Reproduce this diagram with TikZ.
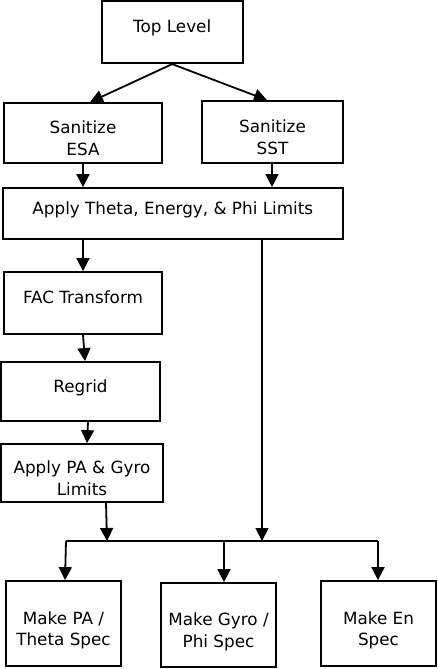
\documentclass[tikz,border=0pt]{standalone}
\usepackage{fontspec}
\setmainfont{DejaVu Sans}
\usetikzlibrary{arrows.meta,calc}
\newcommand\boxtext[1]{\raisebox{0pt}[8.8pt][7.2pt]{\begin{tabular}[t]{@{}c@{}}#1\end{tabular}}}
\begin{document}
\begin{tikzpicture}[x=1pt,y=-1pt,
  box/.style={draw=black,line width=1.8pt,rectangle,inner sep=2pt,
    font=\fontsize{16.8}{21.5}\selectfont},
  arr/.style={line width=1.8pt,-{Triangle[length=13pt,width=13pt]}},
  ln/.style={line width=1.8pt}]
\useasboundingbox (0,0) rectangle (437,669);
\node[box,minimum width=141pt,minimum height=62pt] (top) at (172.2,32.2) {\boxtext{Top Level}};
\node[box,minimum width=158pt,minimum height=60pt] (esa) at (83,133) {\boxtext{Sanitize\\ESA}};
\node[box,minimum width=141pt,minimum height=62pt] (sst) at (272.5,132) {\boxtext{Sanitize\\SST}};
\node[box,minimum width=340pt,minimum height=51pt] (apply) at (172.8,213.5) {\boxtext{Apply Theta, Energy, \& Phi Limits}};
\node[box,minimum width=158pt,minimum height=62pt] (fac) at (83,303) {\boxtext{FAC Transform}};
\node[box,minimum width=159pt,minimum height=59pt] (regrid) at (80.5,391.5) {\boxtext{Regrid}};
\node[box,minimum width=162pt,minimum height=58pt] (pa) at (82,473) {\boxtext{Apply PA \& Gyro\\Limits}};
\node[box,minimum width=115pt,minimum height=85pt] (mpa) at (63.5,623.5) {\boxtext{Make PA /\\Theta Spec}};
\node[box,minimum width=115pt,minimum height=84pt] (gyro) at (218.5,625) {\boxtext{Make Gyro /\\Phi Spec}};
\node[box,minimum width=115pt,minimum height=85pt] (en) at (378.5,623.5) {\boxtext{Make En\\Spec}};
\coordinate (busL) at (66,541);
\coordinate (busM) at (224,541);
\coordinate (busR) at (378,541);
\coordinate (j1) at (262,541);
\coordinate (j2) at (107,541);
\draw[arr] (top.south) -- ($(esa.north)+(7,0)$);
\draw[arr] (top.south) -- ($(sst.north)+(-5.5,0)$);
\draw[arr] (esa.south) -- (esa.south |- apply.north);
\draw[arr] ($(sst.south)+(-0.5,0)$) -- ($(sst.south |- apply.north)+(-0.5,0)$);
\draw[arr] (fac.north |- apply.south) -- (fac.north);
\draw[arr] (apply.south -| j1) -- (j1);
\draw[arr] (fac.south) -- ($(regrid.north)+(4.5,0)$);
\draw[arr] ($(regrid.south)+(7.5,0)$) -- ($(pa.north)+(5,0)$);
\draw[arr] ($(pa.south)+(24,0)$) -- (j2);
\draw[ln] (busL) -- (busR);
\draw[arr] (busL) -- ($(mpa.north)+(1.5,0)$);
\draw[arr] (busM) -- (gyro.north -| busM);
\draw[arr] (busR) -- (en.north -| busR);
\end{tikzpicture}
\end{document}
